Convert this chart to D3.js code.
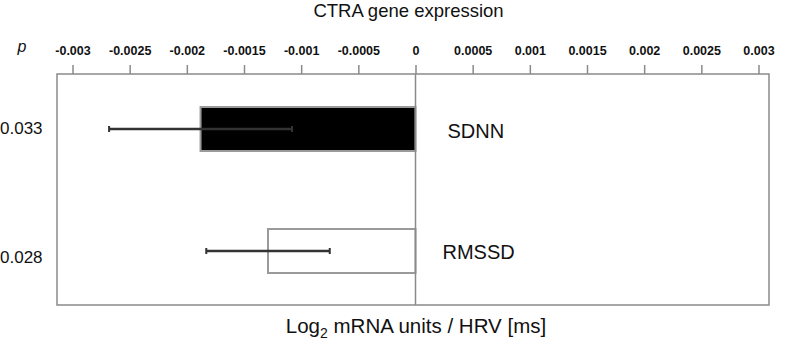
<!DOCTYPE html>
<html>
<head>
<meta charset="utf-8">
<script src="https://cdn.jsdelivr.net/npm/d3@7"></script>
<style>
  body { margin: 0; background: #fff; }
  text { font-family: "Liberation Sans", Arial, sans-serif; fill: #111; }
</style>
</head>
<body>
<div id="chart"></div>
<script>
// data
var measures = ["SDNN", "RMSSD"];
var pValues = ["0.033", "0.028"];
var estimates = [-0.00188, -0.00129];
var errors = [0.0008, 0.00054];
var fills = ["#000", "#fff"];
var tickValues = [-0.003, -0.0025, -0.002, -0.0015, -0.001, -0.0005, 0,
                  0.0005, 0.001, 0.0015, 0.002, 0.0025, 0.003];

var width = 787,
    height = 343,
    boxLeft = 57, boxRight = 769, boxTop = 74, boxBottom = 305;

var svg = d3.select("#chart").append("svg")
    .attr("width", width)
    .attr("height", height);

var x = d3.scaleLinear()
    .domain([-0.003, 0.003])
    .range([72.5, 758.5]);

var y = d3.scalePoint()
    .domain(measures)
    .range([129, 251]);

var barH = 44;
var gray = "#8a8a8a";

// frame
svg.append("rect")
    .attr("x", boxLeft).attr("y", boxTop)
    .attr("width", boxRight - boxLeft).attr("height", boxBottom - boxTop)
    .attr("fill", "none").attr("stroke", gray).attr("stroke-width", 1.5);

// top axis
var axis = d3.axisTop(x)
    .tickValues(tickValues)
    .tickSize(9)
    .tickPadding(10)
    .tickFormat(function(d) { return d === 0 ? "0" : String(+d.toFixed(4)); });

var ax = svg.append("g")
    .attr("transform", "translate(0," + boxTop + ")")
    .call(axis);
ax.select(".domain").remove();
ax.selectAll(".tick line").attr("stroke", gray).attr("stroke-width", 1.5);
ax.selectAll(".tick text")
    .style("font-size", "12.5px")
    .style("font-weight", "bold")
    .attr("fill", "#222");

// bars
svg.selectAll("rect.bar")
    .data(measures)
  .enter().append("rect")
    .attr("class", "bar")
    .attr("x", function(d, i) { return x(estimates[i]); })
    .attr("y", function(d) { return y(d) - barH / 2; })
    .attr("width", function(d, i) { return x(0) - x(estimates[i]); })
    .attr("height", barH)
    .attr("fill", function(d, i) { return fills[i]; })
    .attr("stroke", "#9a9a9a")
    .attr("stroke-width", 2);

// zero line
svg.append("line")
    .attr("x1", x(0)).attr("x2", x(0))
    .attr("y1", boxTop).attr("y2", boxBottom)
    .attr("stroke", gray).attr("stroke-width", 1.5);

// error bars
var eb = svg.selectAll("g.err")
    .data(measures)
  .enter().append("g")
    .attr("class", "err");
eb.append("line")
    .attr("x1", function(d, i) { return x(estimates[i] - errors[i]); })
    .attr("x2", function(d, i) { return x(estimates[i] + errors[i]); })
    .attr("y1", function(d) { return y(d); })
    .attr("y2", function(d) { return y(d); })
    .attr("stroke", "#333").attr("stroke-width", 2.5);
[-1, 1].forEach(function(s) {
  eb.append("line")
      .attr("x1", function(d, i) { return x(estimates[i] + s * errors[i]); })
      .attr("x2", function(d, i) { return x(estimates[i] + s * errors[i]); })
      .attr("y1", function(d) { return y(d) - 3; })
      .attr("y2", function(d) { return y(d) + 3; })
      .attr("stroke", "#333").attr("stroke-width", 2);
});

// measure labels
svg.selectAll("text.lab")
    .data(measures)
  .enter().append("text")
    .attr("class", "lab")
    .attr("x", function(d, i) { return x(0) + (i === 0 ? 32 : 27); })
    .attr("y", function(d, i) { return y(d) + (i === 0 ? 2 : 1); })
    .attr("dy", "0.35em")
    .style("font-size", "20px")
    .text(function(d) { return d; });

// p values
svg.append("text")
    .attr("x", 22).attr("y", 52)
    .attr("text-anchor", "middle")
    .style("font-size", "16px")
    .style("font-style", "italic")
    .text("p");

svg.selectAll("text.pv")
    .data(pValues)
  .enter().append("text")
    .attr("class", "pv")
    .attr("x", 0)
    .attr("y", function(d, i) { return y(measures[i]) + (i === 0 ? -1 : 6); })
    .attr("dy", "0.35em")
    .style("font-size", "17px")
    .text(function(d) { return d; });

// titles
svg.append("text")
    .attr("x", 408.5).attr("y", 17)
    .attr("text-anchor", "middle")
    .style("font-size", "18.5px")
    .text("CTRA gene expression");

var xt = svg.append("text")
    .attr("x", 416).attr("y", 333)
    .attr("text-anchor", "middle")
    .style("font-size", "20.5px");
xt.append("tspan").text("Log");
xt.append("tspan").attr("dy", "5").style("font-size", "14px").text("2");
xt.append("tspan").attr("dy", "-5").text(" mRNA units / HRV [ms]");
</script>
</body>
</html>
